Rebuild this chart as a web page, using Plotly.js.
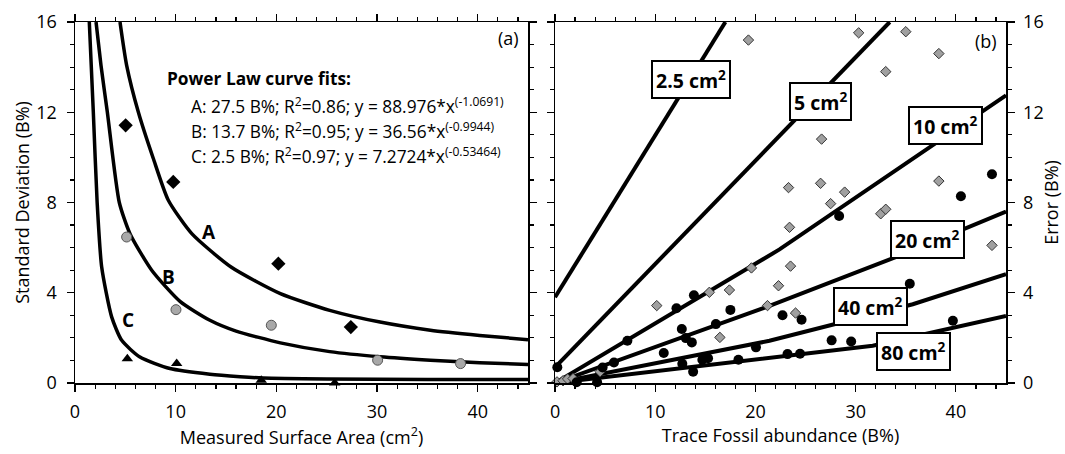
<!DOCTYPE html>
<html><head><meta charset="utf-8">
<script src="https://cdn.plot.ly/plotly-3.0.1.min.js"></script>
<style>html,body{margin:0;padding:0;background:#fff}#chart{width:1065px;height:454px}</style>
</head><body><div id="chart"></div>
<script>
// ---------- Panel (a): power-law fit curves ----------
const curveA_x = [4.47, 5.13, 6.29, 7.78, 9.27, 11.6, 15.5, 20.4, 25.3, 30.3, 35.3, 40.2, 45];
const curveA_y = [16, 14.08, 12.01, 9.95, 8.10, 6.62, 5.14, 3.96, 3.22, 2.70, 2.34, 2.11, 1.92];
const curveB_x = [2.09, 2.58, 3.21, 4.4, 5.46, 7.62, 10.43, 13.4, 16.0, 20.4, 25.3, 30.3, 35.3, 40.2, 45];
const curveB_y = [16, 14.08, 12.01, 8.0, 6.62, 5.0, 3.62, 2.78, 2.3, 1.78, 1.39, 1.16, 1.01, 0.90, 0.82];
const curveC_x = [1.42, 1.82, 2.2, 2.65, 3.64, 4.64, 6.45, 9.43, 13.4, 16.4, 18.7, 25, 35, 45];
const curveC_y = [16, 12.0, 8.0, 5.14, 2.93, 1.89, 1.15, 0.64, 0.39, 0.28, 0.22, 0.18, 0.16, 0.16];

// Panel (a): measured points
const ptsA_x = [5.03, 9.76, 20.2, 27.4];
const ptsA_y = [11.42, 8.91, 5.29, 2.48];
const ptsB_x = [5.13, 10.03, 19.5, 30.06, 38.3];
const ptsB_y = [6.47, 3.25, 2.56, 1.01, 0.86];
const ptsC_x = [5.2, 10.1, 18.5, 25.8];
const ptsC_y = [1.08, 0.86, 0.12, 0.0];

const fitLines = [
  '<b>Power Law curve fits:</b>',
  'A: 27.5 B%; R<sup>2</sup>=0.86; y = 88.976*x<sup>(-1.0691)</sup>',
  'B: 13.7 B%; R<sup>2</sup>=0.95; y = 36.56*x<sup>(-0.9944)</sup>',
  'C: 2.5 B%; R<sup>2</sup>=0.97; y = 7.2724*x<sup>(-0.53464)</sup>'
];

// ---------- Panel (b): error lines per surface area ----------
const areaLabels = ['2.5 cm<sup>2</sup>', '5 cm<sup>2</sup>', '10 cm<sup>2</sup>', '20 cm<sup>2</sup>', '40 cm<sup>2</sup>', '80 cm<sup>2</sup>'];
const line25_x = [0, 17.0];            const line25_y = [3.8, 16];
const line5_x  = [0, 33.4];            const line5_y  = [0.69, 16];
const line10_x = [0, 7.2, 22.4, 45];   const line10_y = [0, 1.9, 5.92, 12.75];
const line20_x = [0, 21.4, 34.7, 45];  const line20_y = [0, 3.42, 5.70, 7.6];
const line40_x = [0, 21.4, 35.7, 45];  const line40_y = [0, 1.87, 3.49, 4.82];
const line80_x = [0, 22, 31.7, 45];    const line80_y = [0, 1.12, 1.65, 2.97];

// Panel (b): grey diamonds
const greyX = [19.3, 30.3, 35.0, 38.3, 33.0, 26.6, 23.3, 26.5, 28.9, 27.5, 32.5, 33.0, 23.4, 38.3, 43.6,
               19.6, 23.5, 22.3, 17.4, 15.4, 10.15, 21.2, 24.0, 16.45, 4.5, 0.2, 0.8, 1.25, 1.8];
const greyY = [15.2, 15.52, 15.57, 14.6, 13.8, 10.81, 8.66, 8.85, 8.46, 7.95, 7.5, 7.7, 6.9, 8.95, 6.1,
               5.1, 5.18, 4.31, 4.12, 4.02, 3.43, 3.43, 3.1, 2.02, 0.5, 0.05, 0.1, 0.18, 0.2];
// Panel (b): black circles
const blackX = [28.35, 40.5, 43.6, 35.4, 39.7, 13.86, 12.12, 17.5, 22.7, 24.6, 12.65, 16.05, 13.05, 13.65,
                7.22, 10.85, 20.05, 27.6, 29.55, 23.2, 24.45, 18.3, 15.27, 14.7, 12.7, 13.78, 5.88, 4.75,
                0.23, 2.16, 4.2];
const blackY = [7.4, 8.28, 9.25, 4.4, 2.76, 3.89, 3.31, 3.24, 3.0, 2.8, 2.39, 2.61, 1.99, 1.8,
                1.87, 1.33, 1.58, 1.89, 1.84, 1.28, 1.3, 1.03, 1.1, 1.03, 0.85, 0.5, 0.91, 0.69,
                0.7, 0.03, 0.03];

const FONT = 'Open Sans, Noto Sans, sans-serif';
const curve = (x, y, xa, ya) => ({x, y, xaxis: xa, yaxis: ya, type: 'scatter', mode: 'lines',
  line: {color: '#000', width: 3.5, shape: 'spline', smoothing: 0.6}, hoverinfo: 'skip', showlegend: false});
const straight = (x, y) => ({x, y, xaxis: 'x2', yaxis: 'y2', type: 'scatter', mode: 'lines',
  line: {color: '#000', width: 4}, showlegend: false, cliponaxis: true});

const data = [
  curve(curveA_x, curveA_y, 'x', 'y'),
  curve(curveB_x, curveB_y, 'x', 'y'),
  curve(curveC_x, curveC_y, 'x', 'y'),
  {x: ptsA_x, y: ptsA_y, type: 'scatter', mode: 'markers', cliponaxis: false,
   marker: {symbol: 'diamond', size: 11, color: '#000'}, showlegend: false},
  {x: ptsB_x, y: ptsB_y, type: 'scatter', mode: 'markers', cliponaxis: false,
   marker: {symbol: 'circle', size: 10, color: '#a8a8a8', line: {color: '#555', width: 1}}, showlegend: false},
  {x: ptsC_x, y: ptsC_y, type: 'scatter', mode: 'markers', cliponaxis: false,
   marker: {symbol: 'triangle-up', size: 10, color: '#000'}, showlegend: false},
  straight(line25_x, line25_y),
  straight(line5_x, line5_y),
  straight(line10_x, line10_y),
  straight(line20_x, line20_y),
  straight(line40_x, line40_y),
  straight(line80_x, line80_y),
  {x: greyX, y: greyY, xaxis: 'x2', yaxis: 'y2', type: 'scatter', mode: 'markers', cliponaxis: false,
   marker: {symbol: 'diamond', size: 8, color: '#a0a0a0', line: {color: '#333', width: 1}}, showlegend: false},
  {x: blackX, y: blackY, xaxis: 'x2', yaxis: 'y2', type: 'scatter', mode: 'markers', cliponaxis: false,
   marker: {symbol: 'circle', size: 10, color: '#000'}, showlegend: false}
];

const axBase = {
  showgrid: false, zeroline: false, showline: true, linecolor: '#000', linewidth: 1.5,
  mirror: 'allticks', ticks: 'outside', ticklen: 7, tickwidth: 1.2, tickcolor: '#000',
  tickfont: {family: FONT, size: 18, color: '#000'}, ticklabelstandoff: 5
};
const xTitleFont = {family: FONT, size: 18, color: '#000'};

const layout = {
  width: 1065, height: 454,
  margin: {l: 75, r: 59, t: 22, b: 71},
  paper_bgcolor: '#fff', plot_bgcolor: '#fff',
  font: {family: FONT, color: '#000'},
  showlegend: false,
  xaxis: Object.assign({}, axBase, {domain: [0, 0.4866], range: [0, 45], dtick: 10, anchor: 'y',
    minor: {dtick: 2, ticks: 'outside', ticklen: 4, tickcolor: '#000'},
    title: {text: 'Measured Surface Area (cm<sup>2</sup>)', font: xTitleFont, standoff: 3}}),
  yaxis: Object.assign({}, axBase, {domain: [0, 1], range: [0, 16], dtick: 4, anchor: 'x',
    minor: {dtick: 1, ticks: 'outside', ticklen: 4, tickcolor: '#000'}, ticklabelstandoff: 6,
    title: {text: 'Standard Deviation (B%)', font: xTitleFont, standoff: 2}}),
  xaxis2: Object.assign({}, axBase, {domain: [0.5156, 1], range: [0, 45], dtick: 10, anchor: 'y2',
    minor: {dtick: 2, ticks: 'outside', ticklen: 4, tickcolor: '#000'},
    title: {text: 'Trace Fossil abundance (B%)', font: xTitleFont, standoff: 3}}),
  yaxis2: Object.assign({}, axBase, {domain: [0, 1], range: [0, 16], dtick: 4, anchor: 'x2', side: 'right',
    minor: {dtick: 1, ticks: 'outside', ticklen: 4, tickcolor: '#000'}, ticklabelstandoff: 5,
    title: {text: 'Error (B%)', font: xTitleFont, standoff: 2}}),
  annotations: []
};

// curve labels A/B/C
[['A', 13.3, 6.69], ['B', 9.27, 4.70], ['C', 5.3, 2.78]].forEach(([t, x, y]) => {
  layout.annotations.push({xref: 'x', yref: 'y', x, y, text: '<b>' + t + '</b>', showarrow: false,
    font: {family: FONT, size: 19, color: '#000'}});
});
// fit legend
const fitYs = [13.5, 12.3, 11.19, 10.09];
const fitXs = [8.9, 11.3, 11.3, 11.3];
fitLines.forEach((t, i) => {
  layout.annotations.push({xref: 'x', yref: 'y', x: fitXs[i], y: fitYs[i], text: t, showarrow: false,
    xanchor: 'left', align: 'left', font: {family: FONT, size: i === 0 ? 17.3 : 17.3, color: '#000'}});
});
// panel tags
layout.annotations.push({xref: 'x domain', yref: 'y domain', x: 0.985, y: 0.995, xanchor: 'right', yanchor: 'top',
  text: '(a)', showarrow: false, font: {family: FONT, size: 18, color: '#000'}});
layout.annotations.push({xref: 'x2 domain', yref: 'y2 domain', x: 0.985, y: 0.985, xanchor: 'right', yanchor: 'top',
  text: '(b)', showarrow: false, font: {family: FONT, size: 18, color: '#000'}});
// area labels on lines (boxed)
const labelPos = [[13.6, 13.44], [26.5, 12.46], [39.0, 11.43], [37.2, 6.36], [31.5, 3.38], [35.8, 1.41]];
areaLabels.forEach((t, i) => {
  layout.annotations.push({xref: 'x2', yref: 'y2', x: labelPos[i][0], y: labelPos[i][1], text: '<b>' + t + '</b>',
    showarrow: false, bgcolor: '#fff', bordercolor: '#000', borderwidth: 2, borderpad: 3,
    font: {family: FONT, size: 19.5, color: '#000'}});
});

Plotly.newPlot('chart', data, layout, {displayModeBar: false, staticPlot: true});
</script>
</body></html>
